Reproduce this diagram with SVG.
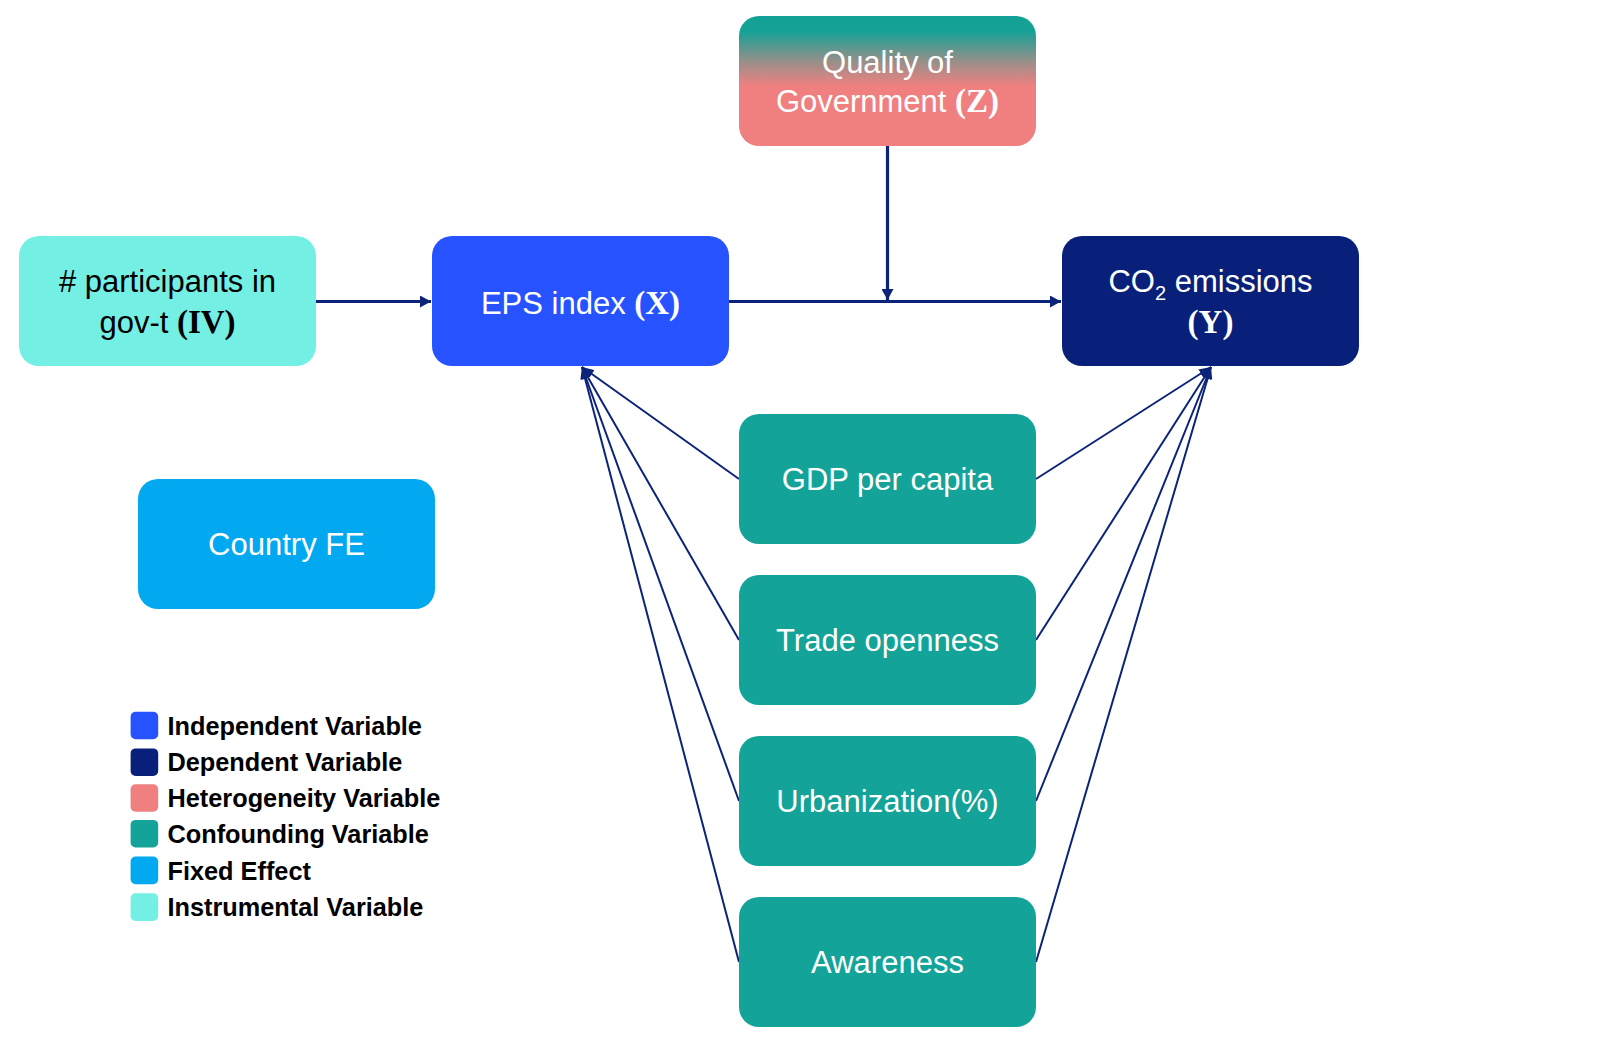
<svg xmlns="http://www.w3.org/2000/svg" width="1600" height="1042" viewBox="0 0 1600 1042">
<defs>
<style>
.t{font-family:"Liberation Sans",Arial,sans-serif;font-size:31px;fill:#ffffff;text-anchor:middle}
.tk{fill:#000000}
.s{font-family:"Liberation Serif","Times New Roman",serif;font-weight:bold;font-size:33px}
.lg{font-family:"Liberation Sans",Arial,sans-serif;font-weight:bold;font-size:25.3px;fill:#000000}
.c{stroke:#0B2379;fill:none}
.thick{stroke-width:3.2}
.thin{stroke-width:2}
</style>
<linearGradient id="gz" x1="0" y1="0" x2="0" y2="1">
<stop offset="0" stop-color="#12A196"/>
<stop offset="0.12" stop-color="#16A196"/>
<stop offset="0.36" stop-color="#9C8F89"/>
<stop offset="0.54" stop-color="#F08080"/>
<stop offset="1" stop-color="#F08080"/>
</linearGradient>
<marker id="ah" viewBox="0 0 11 12" refX="11" refY="6" markerWidth="11" markerHeight="12" markerUnits="userSpaceOnUse" orient="auto">
<path d="M0,0 L11,6 L0,12 z" fill="#0B2379"/>
</marker>
<marker id="ahs" viewBox="0 0 10 8" refX="10" refY="4" markerWidth="12" markerHeight="10" markerUnits="userSpaceOnUse" orient="auto">
<path d="M0,0 L10,4 L0,8 z" fill="#0B2379"/>
</marker>
</defs>
<rect width="1600" height="1042" fill="#ffffff"/>

<g id="connectors">
<line class="c thick" x1="316" y1="301.5" x2="431" y2="301.5" marker-end="url(#ah)"/>
<line class="c thick" x1="729" y1="301.5" x2="1061" y2="301.5" marker-end="url(#ah)"/>
<line class="c thick" x1="887.5" y1="146" x2="887.5" y2="300" marker-end="url(#ah)"/>
<line class="c thin" x1="739" y1="479" x2="582" y2="367" marker-end="url(#ahs)"/>
<line class="c thin" x1="739" y1="640" x2="582" y2="367" marker-end="url(#ahs)"/>
<line class="c thin" x1="739" y1="801" x2="582" y2="367" marker-end="url(#ahs)"/>
<line class="c thin" x1="739" y1="962" x2="582" y2="367" marker-end="url(#ahs)"/>
<line class="c thin" x1="1036" y1="479" x2="1211" y2="367" marker-end="url(#ahs)"/>
<line class="c thin" x1="1036" y1="640" x2="1211" y2="367" marker-end="url(#ahs)"/>
<line class="c thin" x1="1036" y1="801" x2="1211" y2="367" marker-end="url(#ahs)"/>
<line class="c thin" x1="1036" y1="962" x2="1211" y2="367" marker-end="url(#ahs)"/>
</g>

<g id="node-z">
<rect x="739" y="16" width="297" height="130" rx="20" fill="url(#gz)"/>
<text class="t" x="887.5" y="73">Quality of</text>
<text class="t" x="887.5" y="112">Government <tspan class="s">(Z)</tspan></text>
</g>

<g id="node-iv">
<rect x="19" y="236" width="297" height="130" rx="20" fill="#74EFE4"/>
<text class="t tk" x="167.5" y="292"># participants in</text>
<text class="t tk" x="167.5" y="333">gov-t <tspan class="s">(IV)</tspan></text>
</g>

<g id="node-x">
<rect x="432" y="236" width="297" height="130" rx="20" fill="#2653FF"/>
<text class="t" x="580.5" y="314">EPS index <tspan class="s">(X)</tspan></text>
</g>

<g id="node-y">
<rect x="1062" y="236" width="297" height="130" rx="20" fill="#08207A"/>
<text class="t" x="1210.5" y="292">CO<tspan font-size="20" dy="8">2</tspan><tspan dy="-8"> emissions</tspan></text>
<text class="t s" x="1210.5" y="333">(Y)</text>
</g>

<g id="node-fe">
<rect x="138" y="479" width="297" height="130" rx="20" fill="#02A9F1"/>
<text class="t" x="286.5" y="555">Country FE</text>
</g>

<g id="node-gdp">
<rect x="739" y="414" width="297" height="130" rx="20" fill="#13A398"/>
<text class="t" x="887.5" y="490">GDP per capita</text>
</g>

<g id="node-trade">
<rect x="739" y="575" width="297" height="130" rx="20" fill="#13A398"/>
<text class="t" x="887.5" y="651">Trade openness</text>
</g>

<g id="node-urban">
<rect x="739" y="736" width="297" height="130" rx="20" fill="#13A398"/>
<text class="t" x="887.5" y="812">Urbanization(%)</text>
</g>

<g id="node-aware">
<rect x="739" y="897" width="297" height="130" rx="20" fill="#13A398"/>
<text class="t" x="887.5" y="973">Awareness</text>
</g>

<g id="legend">
<rect x="130.6" y="711.7" width="27.6" height="27.6" rx="5" fill="#2653FF"/>
<text class="lg" x="167.5" y="734.5">Independent Variable</text>
<rect x="130.6" y="748.4" width="27.6" height="27.6" rx="5" fill="#08207A"/>
<text class="lg" x="167.5" y="771">Dependent Variable</text>
<rect x="130.6" y="784.2" width="27.6" height="27.6" rx="5" fill="#F08080"/>
<text class="lg" x="167.5" y="807">Heterogeneity Variable</text>
<rect x="130.6" y="819.9" width="27.6" height="27.6" rx="5" fill="#13A398"/>
<text class="lg" x="167.5" y="843">Confounding Variable</text>
<rect x="130.6" y="856.6" width="27.6" height="27.6" rx="5" fill="#02A9F1"/>
<text class="lg" x="167.5" y="879.5">Fixed Effect</text>
<rect x="130.6" y="893.3" width="27.6" height="27.6" rx="5" fill="#74EFE4"/>
<text class="lg" x="167.5" y="916">Instrumental Variable</text>
</g>
</svg>
